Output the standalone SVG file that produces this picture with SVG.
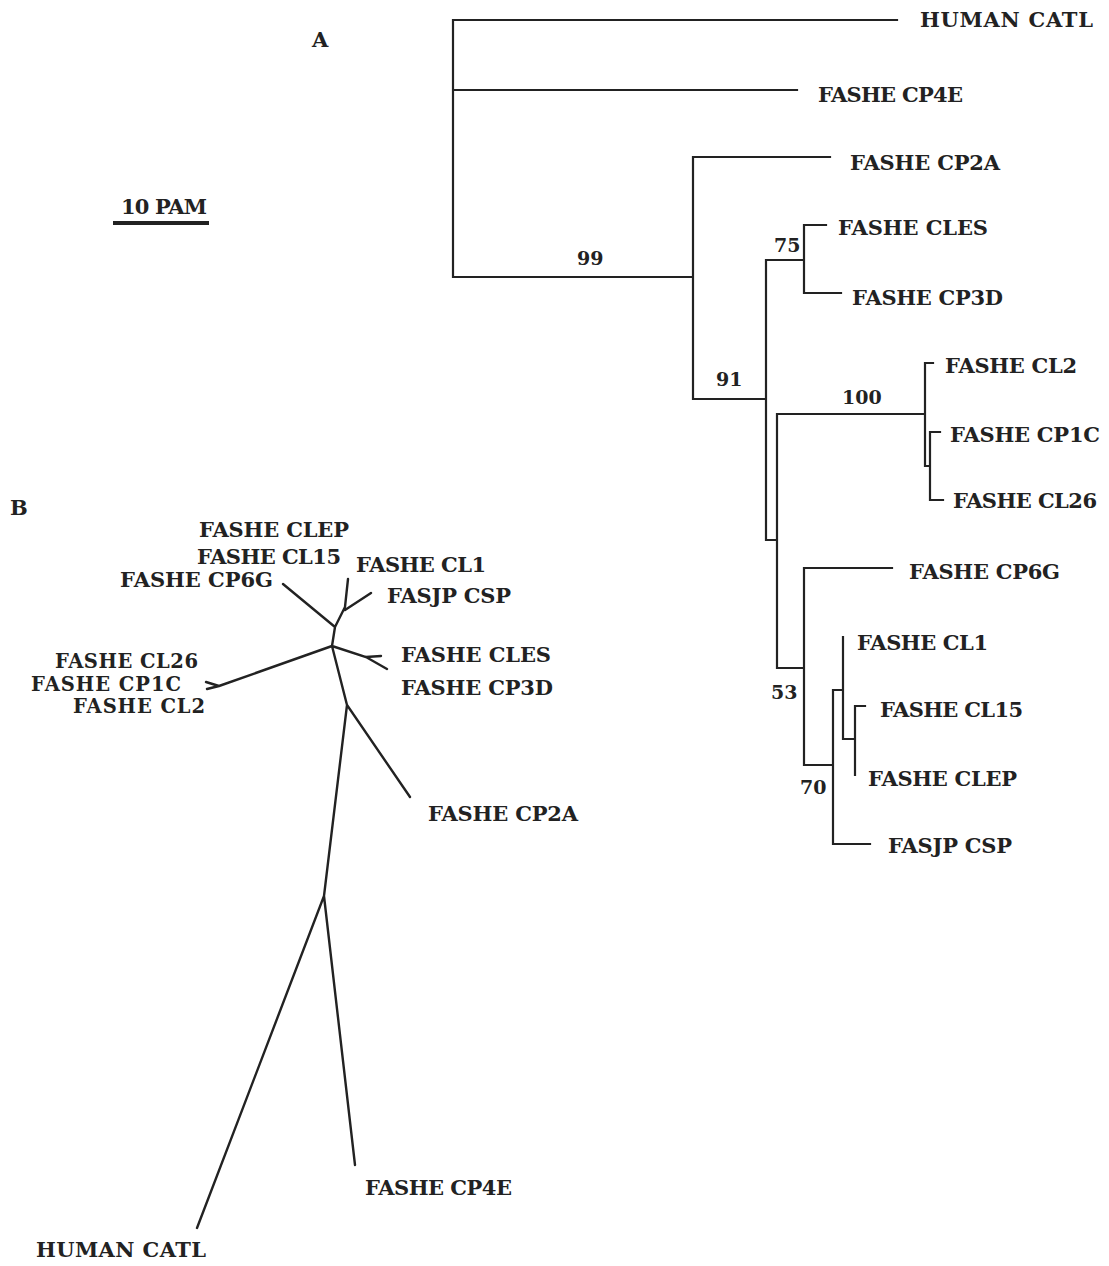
<svg xmlns="http://www.w3.org/2000/svg" width="1109" height="1266" viewBox="0 0 1109 1266">
<style>
text{font-family:"DejaVu Serif","Liberation Serif",serif;font-weight:bold;font-size:21px;fill:#222;}
.n{font-size:19px;}
.s{font-size:19.5px;}
.e{fill:none;stroke:#222;stroke-width:2.2;stroke-linecap:square;}
.b{fill:none;stroke:#222;stroke-width:2.4;stroke-linecap:round;}
</style>
<rect width="1109" height="1266" fill="#fff"/>
<g id="connectors">
<path class="e" d="M453,20 V277 M453,20 H897 M453,90 H797 M453,277 H693
M693,157 V399 M693,157 H830 M693,399 H766
M766,260 V540 H777 M766,260 H804 M804,225 V293 M804,225 H826 M804,293 H841
M777,414 V668 H804 M777,414 H925 M925,363 V466 M925,363 H933 M925,466 H930 M930,432 V500 M930,432 H940 M930,500 H943
M804,568 V765 M804,568 H892 M804,765 H833 M833,690 V844 M833,844 H870 M833,690 H843 M843,637 V739 M843,739 H855 M855,706 V775 M855,706 H865"/>
<path class="b" d="M283,584 L335,627 M335,627 L345,607 L348,579 M345,610 L371,593 M335,627 L332,646
M332,646 L219,686 M219,686 L206,682 M219,686 L207,689
M332,646 L366,657 L387,669 M366,657 L381,656
M332,646 L347,705 L410,797 M347,705 L324,896 L197,1228 M324,896 L355,1165"/>
</g>
<g id="scale-bar">
<rect x="113" y="221" width="96" height="4" fill="#222"/>
<text x="121" y="214" textLength="86">10 PAM</text>
</g>
<g id="panel-labels">
<text x="312" y="47">A</text>
<text x="10" y="515">B</text>
</g>
<g id="bootstrap">
<text class="n" x="577" y="265">99</text>
<text class="n" x="716" y="386">91</text>
<text class="n" x="774" y="252">75</text>
<text class="n" x="842" y="404">100</text>
<text class="n" x="771" y="699">53</text>
<text class="n" x="800" y="794">70</text>
</g>
<g id="treeA-leaves">
<g id="A-HUMAN-CATL"><text x="920" y="27" textLength="173">HUMAN CATL</text></g>
<g id="A-CP4E"><text x="818" y="102" textLength="145">FASHE CP4E</text></g>
<g id="A-CP2A"><text x="850" y="170" textLength="150">FASHE CP2A</text></g>
<g id="A-CLES"><text x="838" y="235" textLength="150">FASHE CLES</text></g>
<g id="A-CP3D"><text x="852" y="305" textLength="151">FASHE CP3D</text></g>
<g id="A-CL2"><text x="945" y="373" textLength="132">FASHE CL2</text></g>
<g id="A-CP1C"><text x="950" y="442" textLength="150">FASHE CP1C</text></g>
<g id="A-CL26"><text x="953" y="508" textLength="144">FASHE CL26</text></g>
<g id="A-CP6G"><text x="909" y="579" textLength="151">FASHE CP6G</text></g>
<g id="A-CL1"><text x="857" y="650" textLength="131">FASHE CL1</text></g>
<g id="A-CL15"><text x="880" y="717" textLength="143">FASHE CL15</text></g>
<g id="A-CLEP"><text x="868" y="786" textLength="149">FASHE CLEP</text></g>
<g id="A-CSP"><text x="888" y="853" textLength="124">FASJP CSP</text></g>
</g>
<g id="treeB-leaves">
<g id="B-CLEP"><text x="199" y="537" textLength="150">FASHE CLEP</text></g>
<g id="B-CL15"><text x="197" y="564" textLength="144">FASHE CL15</text></g>
<g id="B-CL1"><text x="356" y="572" textLength="130">FASHE CL1</text></g>
<g id="B-CP6G"><text x="120" y="587" textLength="153">FASHE CP6G</text></g>
<g id="B-CSP"><text x="387" y="603" textLength="124">FASJP CSP</text></g>
<g id="B-CLES"><text x="401" y="662" textLength="150">FASHE CLES</text></g>
<g id="B-CP3D"><text x="401" y="695" textLength="152">FASHE CP3D</text></g>
<g id="B-CL26"><text class="s" x="55" y="668" textLength="143">FASHE CL26</text></g>
<g id="B-CP1C"><text class="s" x="31" y="691" textLength="150">FASHE CP1C</text></g>
<g id="B-CL2"><text class="s" x="73" y="713" textLength="132">FASHE CL2</text></g>
<g id="B-CP2A"><text x="428" y="821" textLength="150">FASHE CP2A</text></g>
<g id="B-CP4E"><text x="365" y="1195" textLength="147">FASHE CP4E</text></g>
<g id="B-HUMAN-CATL"><text x="36" y="1257" textLength="170">HUMAN CATL</text></g>
</g>
</svg>
